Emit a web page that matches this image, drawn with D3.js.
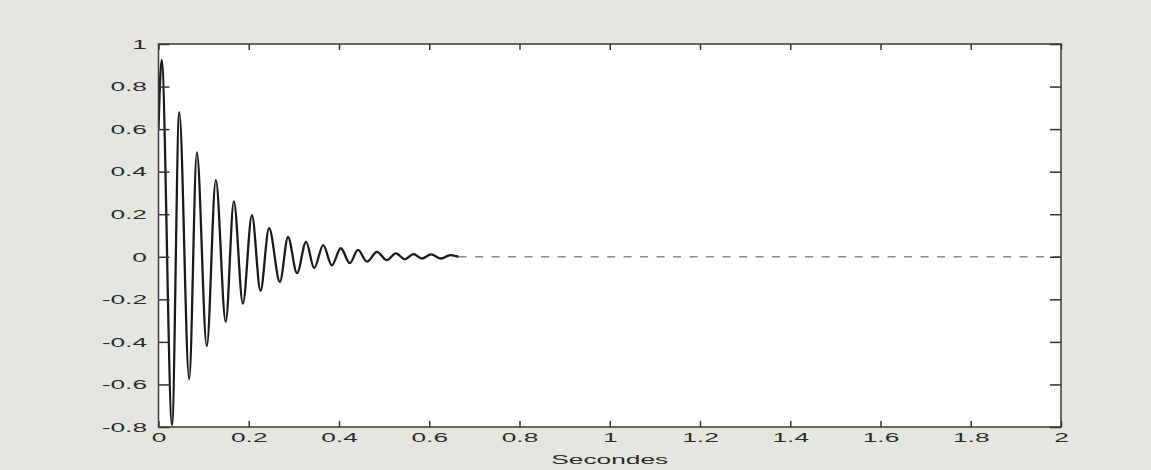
<!DOCTYPE html>
<html>
<head>
<meta charset="utf-8">
<script src="https://cdn.jsdelivr.net/npm/d3@7"></script>
<style>
  html, body { margin: 0; padding: 0; background: #e6e6e0; }
  svg { display: block; }
  text { font-family: "Liberation Sans", Arial, sans-serif; }
</style>
</head>
<body>
<svg id="chart" width="1151" height="470"></svg>
<script>
// ---- data ----
const times = [0, 0.007, 0.03, 0.046, 0.068, 0.085, 0.107, 0.127, 0.149, 0.167, 0.187, 0.207, 0.226, 0.245, 0.269, 0.287, 0.307, 0.327, 0.345, 0.365, 0.384, 0.404, 0.424, 0.442, 0.462, 0.484, 0.506, 0.526, 0.546, 0.565, 0.584, 0.604, 0.626, 0.647, 0.665];
const values = [0.6, 0.925, -0.79, 0.68, -0.575, 0.49, -0.42, 0.36, -0.305, 0.26, -0.22, 0.196, -0.16, 0.135, -0.118, 0.093, -0.077, 0.07, -0.053, 0.055, -0.04, 0.04, -0.03, 0.032, -0.023, 0.023, -0.016, 0.016, -0.011, 0.0125, -0.008, 0.011, -0.008, 0.008, 0];
const restTimes = [0.665, 2];
const restValues = [0, 0];
const xTicks = [0, 0.2, 0.4, 0.6, 0.8, 1, 1.2, 1.4, 1.6, 1.8, 2];
const xTickLabels = ["0", "0.2", "0.4", "0.6", "0.8", "1", "1.2", "1.4", "1.6", "1.8", "2"];
const yTicks = [-0.8, -0.6, -0.4, -0.2, 0, 0.2, 0.4, 0.6, 0.8, 1];
const yTickLabels = ["-0.8", "-0.6", "-0.4", "-0.2", "0", "0.2", "0.4", "0.6", "0.8", "1"];
const xLabel = "Secondes";

// ---- layout ----
const L = 158.5, R = 1061, T = 44, B = 427;
const SX = 1.95; // horizontal text stretch seen in the reference
const FS = 13.5;

const svg = d3.select("#chart");
const x = d3.scaleLinear().domain([0, 2]).range([L, R]);
const y = d3.scaleLinear().domain([-0.8, 1]).range([B, T]);

svg.append("rect").attr("x", L).attr("y", T).attr("width", R - L).attr("height", B - T)
  .attr("fill", "#ffffff");

svg.append("clipPath").attr("id", "clip").append("rect")
  .attr("x", L).attr("y", T).attr("width", R - L).attr("height", B - T);

const sig = times.map((t, i) => [t, values[i]]);
const rest = restTimes.map((t, i) => [t, restValues[i]]);

const line = d3.line().x(d => x(d[0])).y(d => y(d[1])).curve(d3.curveMonotoneX);

svg.append("path").datum(rest)
  .attr("d", d3.line().x(d => x(d[0])).y(d => y(d[1])))
  .attr("fill", "none").attr("stroke", "#8a8a86").attr("stroke-width", 1.5)
  .attr("stroke-dasharray", "8,8.5").attr("clip-path", "url(#clip)");

svg.append("path").datum(sig)
  .attr("d", line)
  .attr("fill", "none").attr("stroke", "#1a1a1a").attr("stroke-width", 2.3)
  .attr("clip-path", "url(#clip)");

function styleAxis(g) {
  g.select(".domain").remove();
  g.selectAll(".tick line").attr("stroke", "#333").attr("stroke-width", 1.5);
  g.selectAll(".tick text").attr("fill", "#2a2a2a").attr("font-size", FS);
}

const fmtX = d => xTickLabels[xTicks.indexOf(d)];
const fmtY = d => yTickLabels[yTicks.indexOf(d)];

const gB = svg.append("g").attr("transform", `translate(0,${B})`)
  .call(d3.axisBottom(x).tickValues(xTicks).tickFormat(fmtX).tickSizeInner(-6).tickSizeOuter(0).tickPadding(9));
styleAxis(gB);
gB.selectAll(".tick text").attr("y", 5).attr("dy", "0.71em").attr("transform", `scale(${SX},1)`);

const gT = svg.append("g").attr("transform", `translate(0,${T})`)
  .call(d3.axisTop(x).tickValues(xTicks).tickFormat("").tickSizeInner(-6).tickSizeOuter(0));
styleAxis(gT);

const gL = svg.append("g").attr("transform", `translate(${L},0)`)
  .call(d3.axisLeft(y).tickValues(yTicks).tickFormat(fmtY).tickSizeInner(-11).tickSizeOuter(0));
styleAxis(gL);
gL.selectAll(".tick text").attr("x", -11.5 / SX).attr("transform", `scale(${SX},1)`);

const gR = svg.append("g").attr("transform", `translate(${R},0)`)
  .call(d3.axisRight(y).tickValues(yTicks).tickFormat("").tickSizeInner(-11).tickSizeOuter(0));
styleAxis(gR);

svg.append("rect").attr("x", L).attr("y", T).attr("width", R - L).attr("height", B - T)
  .attr("fill", "none").attr("stroke", "#3a3a3a").attr("stroke-width", 1.5);

svg.append("g").attr("transform", `translate(${(L + R) / 2},464)`)
  .append("text").attr("text-anchor", "middle").attr("font-size", FS)
  .attr("fill", "#2a2a2a").attr("transform", `scale(${SX},1)`).text(xLabel);
</script>
</body>
</html>
